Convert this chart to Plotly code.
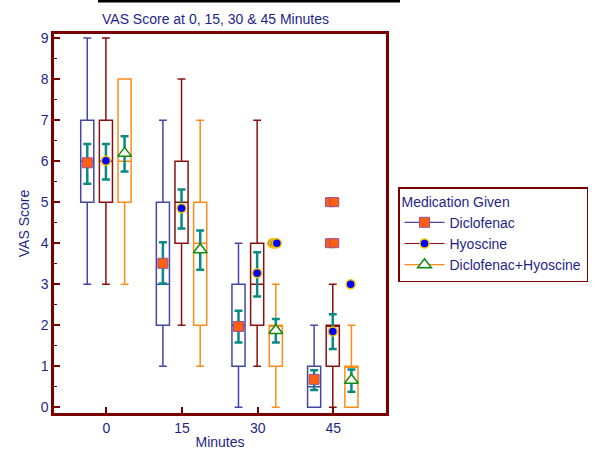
import plotly.graph_objects as go

# ---------------- data ----------------
minutes = [0, 15, 30, 45]
series_names = ["Diclofenac", "Hyoscine", "Diclofenac+Hyoscine"]

# box statistics per series (order: 0, 15, 30, 45 minutes)
dic_low = [3, 1, 0, 0]
dic_q1 = [5, 2, 1, 0]
dic_med = [6, 3, 2, 0.5]
dic_q3 = [7, 5, 3, 1]
dic_high = [9, 7, 4, 2]
dic_mean = [5.96, 3.51, 1.97, 0.68]
dic_ci_lo = [5.45, 3.02, 1.58, 0.42]
dic_ci_hi = [6.42, 4.02, 2.35, 0.90]

hyo_low = [3, 2, 1, 0]
hyo_q1 = [5, 4, 2, 1]
hyo_med = [6, 5, 3, 2]
hyo_q3 = [7, 6, 4, 2]
hyo_high = [9, 8, 7, 3]
hyo_mean = [6.01, 4.85, 3.27, 1.85]
hyo_ci_lo = [5.55, 4.36, 2.70, 1.42]
hyo_ci_hi = [6.42, 5.31, 3.78, 2.27]

dh_low = [3, 1, 0, 0]
dh_q1 = [5, 2, 1, 0]
dh_med = [6, 4, 2, 1]
dh_q3 = [8, 5, 2, 1]
dh_high = [8, 7, 3, 2]
dh_mean = [6.19, 3.84, 1.87, 0.66]
dh_ci_lo = [5.75, 3.35, 1.58, 0.38]
dh_ci_hi = [6.61, 4.31, 2.15, 0.92]

# outliers (minute group, value)
hyo_out_minute = [30, 30, 30, 30]
hyo_out_value = [4, 4, 4, 4]
dic_out_minute = [45, 45, 45, 45]
dic_out_value = [5, 5, 4, 4]
hyo_out2_minute = [45]
hyo_out2_value = [3]

# ---------------- style ----------------
NAVY = "#1f1f8a"
DRED = "#7a0000"
FONT = "Liberation Sans, Arial, sans-serif"
TEAL = "#0b8a84"

W, H = 603, 450
ML, MR, MT, MB = 54, 8, 34, 37
PW = W - ML - MR          # full paper width
PH = H - MT - MB
AX_RIGHT = 386            # right edge of plotting frame (px)
dom_x1 = (AX_RIGHT - ML) / PW

offsets = [-3.8, -0.1, 3.6]
box_colors = ["#4646a6", "#8a1010", "#ff8c1a"]
BOXW = 2.6

stats = [
    (dic_low, dic_q1, dic_med, dic_q3, dic_high, dic_mean, dic_ci_lo, dic_ci_hi),
    (hyo_low, hyo_q1, hyo_med, hyo_q3, hyo_high, hyo_mean, hyo_ci_lo, hyo_ci_hi),
    (dh_low, dh_q1, dh_med, dh_q3, dh_high, dh_mean, dh_ci_lo, dh_ci_hi),
]

mean_markers = [
    dict(symbol="square", size=10, color="#ff6010", line=dict(color="#9a4f96", width=1)),
    dict(symbol="circle", size=9, color="#0000ff", line=dict(color="#f5c400", width=1.5)),
    dict(symbol="triangle-up", size=12, color="white", line=dict(color="#118a11", width=1.5)),
]

fig = go.Figure()

for i, (lo, q1, med, q3, hi, mean, cil, cih) in enumerate(stats):
    xs = [m + offsets[i] for m in minutes]
    fig.add_trace(go.Box(
        x=xs, q1=q1, median=med, q3=q3, lowerfence=lo, upperfence=hi,
        width=BOXW, whiskerwidth=0.6, boxpoints=False,
        fillcolor="rgba(255,255,255,0)",
        line=dict(color=box_colors[i], width=1.5),
        showlegend=False, hoverinfo="skip",
    ))

for i, (lo, q1, med, q3, hi, mean, cil, cih) in enumerate(stats):
    xs = [m + offsets[i] for m in minutes]
    fig.add_trace(go.Scatter(
        x=xs, y=mean, mode="markers",
        marker=mean_markers[i],
        error_y=dict(type="data", symmetric=False,
                     array=[h - m for h, m in zip(cih, mean)],
                     arrayminus=[m - l for m, l in zip(mean, cil)],
                     color=TEAL, thickness=2.5, width=4),
        showlegend=False,
    ))

# outliers
jit_hyo30 = [2.9, 3.2, 3.5, 3.8]
fig.add_trace(go.Scatter(
    x=[m + j for m, j in zip(hyo_out_minute, jit_hyo30)], y=hyo_out_value,
    mode="markers", marker=mean_markers[1], showlegend=False))
jit_dic45 = [-0.65, 0.2, -0.65, 0.2]
fig.add_trace(go.Scatter(
    x=[m + j for m, j in zip(dic_out_minute, jit_dic45)], y=dic_out_value,
    mode="markers", marker=dict(symbol="square", size=9, color="#ff6010",
                                line=dict(color="#9a4f96", width=1)),
    showlegend=False))
fig.add_trace(go.Scatter(
    x=[m + 3.45 for m in hyo_out2_minute], y=hyo_out2_value,
    mode="markers", marker=mean_markers[1], showlegend=False))

# legend entries
for i, name in enumerate(series_names):
    fig.add_trace(go.Scatter(
        x=[None], y=[None], mode="lines+markers", name=name,
        line=dict(color=box_colors[i], width=1.2),
        marker=mean_markers[i],
    ))

fig.update_layout(
    width=W, height=H,
    margin=dict(l=ML, r=MR, t=MT, b=MB),
    plot_bgcolor="white", paper_bgcolor="white",
    boxmode="overlay",
    font=dict(family=FONT, color=NAVY, size=14),
    title=dict(text="VAS Score at 0, 15, 30 & 45 Minutes",
               x=102 / W, xanchor="left", xref="container",
               y=1 - 19 / H, yanchor="middle", yref="container",
               font=dict(size=14, color=NAVY, family=FONT)),
    xaxis=dict(domain=[0, dom_x1], automargin=False,
               range=[-10.4, 55.46], tickvals=minutes,
               ticktext=[str(m) for m in minutes],
               ticks="inside", ticklen=6, tickwidth=2, tickcolor=DRED,
               showline=True, linecolor=DRED, linewidth=2.5, mirror=True,
               showgrid=False, zeroline=False,
               tickfont=dict(size=14, color=NAVY),
               title=dict(text="Minutes", standoff=6,
                          font=dict(size=14, color=NAVY))),
    yaxis=dict(automargin=False,
               range=[-0.14, 9.1], tickvals=list(range(10)),
               ticks="inside", ticklen=6, tickwidth=2, tickcolor=DRED,
               minor=dict(dtick=0.5, ticks="inside", ticklen=3, tickwidth=1,
                          tickcolor=DRED, showgrid=False),
               showline=True, linecolor=DRED, linewidth=2.5, mirror=True,
               showgrid=False, zeroline=False,
               tickfont=dict(size=14, color=NAVY),
               title=dict(text="VAS Score", standoff=8,
                          font=dict(size=14, color=NAVY))),
    legend=dict(x=(398 - ML) / PW, xanchor="left",
                y=(H - MB - 187) / PH, yanchor="top",
                bgcolor="white", bordercolor=DRED, borderwidth=1.5,
                title=dict(text="Medication Given", font=dict(size=14, color=NAVY)),
                font=dict(size=14, color=NAVY), tracegroupgap=0,
                itemwidth=40),
    shapes=[dict(type="line", xref="paper", yref="paper",
                 x0=(98 - ML) / PW, x1=(400 - ML) / PW,
                 y0=(H - MB - 1) / PH, y1=(H - MB - 1) / PH,
                 line=dict(color="black", width=3))],
)

fig.write_html("out.html", config={"displayModeBar": False},
               post_script="document.body.style.margin='0';document.body.style.padding='0';")
